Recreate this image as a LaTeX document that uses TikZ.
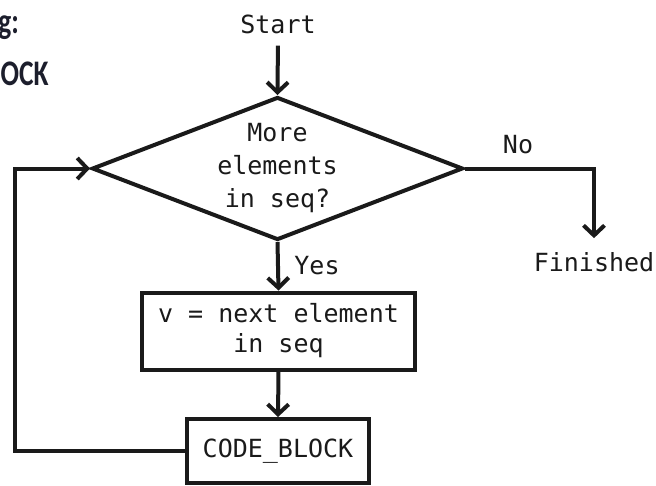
\documentclass[tikz,border=0pt]{standalone}
\usepackage{fontspec}
\usetikzlibrary{shapes.geometric,arrows.meta}
\newfontfamily\codefont{DejaVu Sans Mono}
\newfontfamily\slidefont{Carlito}
\definecolor{ink}{RGB}{26,26,26}
\definecolor{slideink}{RGB}{28,30,44}
\tikzset{
  lbl/.style={font=\codefont\fontsize{25}{33}\selectfont, text=ink, inner sep=2pt, align=center},
  boxnode/.style={draw=ink, line width=4pt, rectangle, inner sep=0pt},
  decnode/.style={draw=ink, line width=4pt, diamond, inner sep=0pt},
  arr/.style={draw=ink, line width=4pt, -{Straight Barb[length=10pt,width=21pt]}},
  slidetext/.style={font=\slidefont\bfseries\fontsize{36}{40}\selectfont, text=slideink, inner sep=0pt, xscale=0.76, transform shape}
}
\begin{document}
\begin{tikzpicture}[x=1pt,y=-1pt]
\useasboundingbox (0,0) rectangle (656,485);
\begin{scope}
\clip (0,0) rectangle (656,485);
\node[slidetext, anchor=base east] (s1) at (19,33) {g:};
\end{scope}
\node[slidetext, anchor=base west] (s2) at (0.5,85) {OCK};
% nodes
\node[lbl, anchor=base] (start) at (278,33) {Start};
\node[decnode, minimum width=371pt, minimum height=143pt] (dec) at (277.5,168.5) {};
\node[lbl] (dectext) at (dec.center) {More\\elements\\in seq?};
\node[boxnode, minimum width=273pt, minimum height=77pt] (box1) at (278.5,331) {};
\node[lbl, font=\codefont\fontsize{25}{30}\selectfont] (box1text) at (278.5,331) {v = next element\\in seq};
\node[boxnode, minimum width=182pt, minimum height=64pt] (box2) at (278,451) {};
\node[lbl] (box2text) at (box2.center) {CODE\_BLOCK};
\node[lbl] (fin) at (594,262) {Finished};
\node[lbl] (yes) at (317,266) {Yes};
\node[lbl] (no) at (518,145) {No};
\coordinate (nc) at (594,168.5);
\coordinate (lp) at (15,451);
% connectors
\draw[arr, shorten <=10pt] (start.south) -- (dec.north);
\draw[arr] (dec.south) -- (box1.north);
\draw[arr] (box1.south) -- (box2.north);
\draw[arr, shorten >=12pt, line join=miter] (dec.east) -- (nc) -- (fin.north);
\draw[arr, line join=miter] (box2.west) -- (lp) |- (dec.west);
\end{tikzpicture}
\end{document}
